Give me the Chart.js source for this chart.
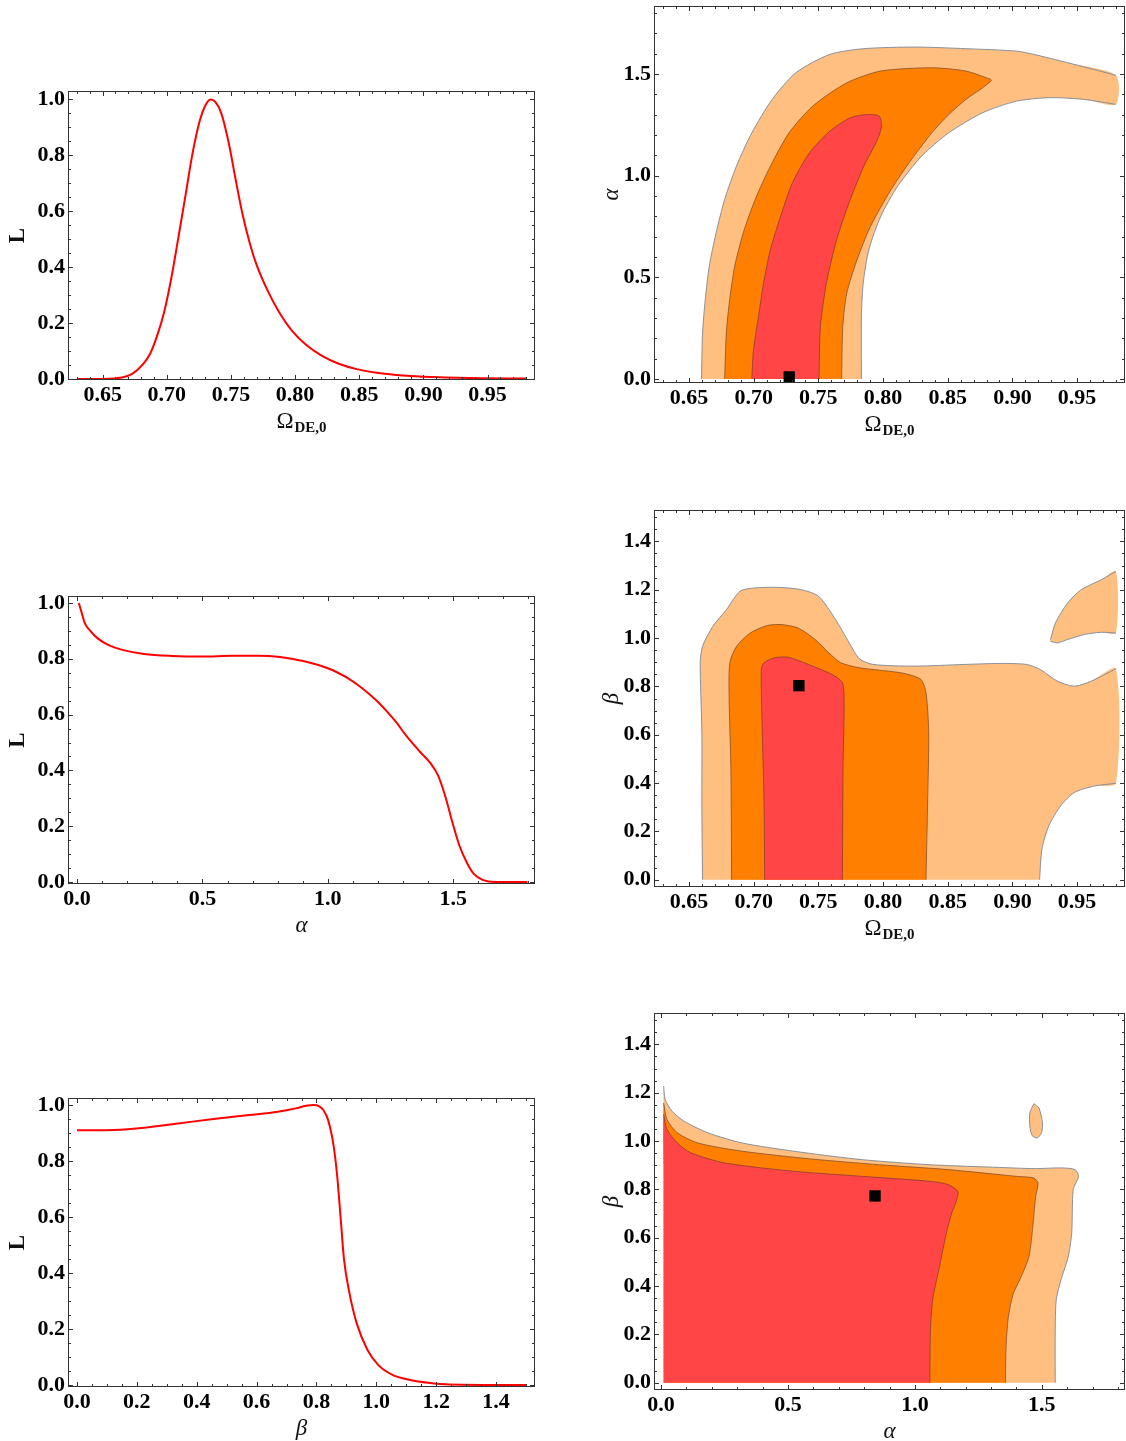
<!DOCTYPE html>
<html lang="en">
<head>
  <meta charset="UTF-8" />
  <title>Likelihoods and confidence contours</title>
  <script src="https://cdn.jsdelivr.net/npm/chart.js"></script>
  <style>
    html, body { margin: 0; padding: 0; background: #fff; overflow: hidden; }
    canvas { position: absolute; }
  </style>
</head>
<body>
  <script>
    // ---- 1D likelihoods ----
    const omegaGrid = [0.63, 0.65, 0.665, 0.673, 0.681, 0.687, 0.6925, 0.698, 0.7035, 0.709, 0.7147, 0.72, 0.7258, 0.73, 0.734, 0.738, 0.7425, 0.748, 0.7536, 0.759, 0.765, 0.77, 0.779, 0.787, 0.798, 0.809, 0.82, 0.834, 0.848, 0.87, 0.89, 0.917, 0.945, 0.98];
    const likeOmega = [0, 0, 0.005, 0.018, 0.05, 0.09, 0.155, 0.24, 0.36, 0.505, 0.66, 0.805, 0.925, 0.978, 1.0, 0.99, 0.95, 0.85, 0.715, 0.59, 0.48, 0.408, 0.312, 0.243, 0.17, 0.12, 0.085, 0.054, 0.035, 0.018, 0.01, 0.005, 0.002, 0.001];

    const alphaGrid = [0.007, 0.017, 0.031, 0.053, 0.081, 0.124, 0.181, 0.267, 0.381, 0.496, 0.624, 0.724, 0.81, 0.91, 1.0, 1.04, 1.081, 1.12, 1.167, 1.2, 1.239, 1.275, 1.31, 1.367, 1.41, 1.439, 1.467, 1.496, 1.524, 1.553, 1.581, 1.617, 1.667, 1.796];
    const likeAlpha = [1.0, 0.97, 0.928, 0.9, 0.874, 0.85, 0.832, 0.817, 0.81, 0.808, 0.811, 0.811, 0.806, 0.79, 0.766, 0.75, 0.73, 0.706, 0.672, 0.645, 0.608, 0.57, 0.527, 0.467, 0.425, 0.383, 0.311, 0.216, 0.132, 0.072, 0.03, 0.008, 0.0, 0.0];

    const betaGrid = [0, 0.098, 0.217, 0.337, 0.456, 0.576, 0.671, 0.731, 0.765, 0.791, 0.808, 0.823, 0.839, 0.857, 0.869, 0.881, 0.892, 0.91, 0.934, 0.97, 1.006, 1.054, 1.113, 1.173, 1.245, 1.5];
    const likeBeta = [0.91, 0.91, 0.918, 0.934, 0.95, 0.964, 0.976, 0.988, 0.997, 1.0, 0.996, 0.982, 0.946, 0.856, 0.749, 0.593, 0.449, 0.329, 0.222, 0.126, 0.072, 0.036, 0.018, 0.008, 0.002, 0];

    // ---- contornos (Omega, alpha) ----
    const oa3s = [[0.6597, 0], [0.66, 0.1], [0.6605, 0.226], [0.6626, 0.39], [0.6657, 0.555], [0.671, 0.719], [0.6776, 0.883], [0.6867, 1.047], [0.6986, 1.211], [0.7143, 1.375], [0.7327, 1.507], [0.759, 1.597], [0.7852, 1.625], [0.8245, 1.633], [0.864, 1.625], [0.9033, 1.613], [0.9164, 1.597], [0.9426, 1.556], [0.98, 1.494], [0.98, 1.351], [0.9558, 1.375], [0.9295, 1.384], [0.9033, 1.367], [0.877, 1.31], [0.8508, 1.211], [0.8298, 1.096], [0.8114, 0.949], [0.7983, 0.801], [0.7891, 0.637], [0.7847, 0.473], [0.7833, 0.309], [0.7833, 0]];
    const oa2s = [[0.6776, 0], [0.6789, 0.226], [0.6815, 0.39], [0.6854, 0.555], [0.692, 0.719], [0.7012, 0.883], [0.713, 1.047], [0.7274, 1.211], [0.7458, 1.343], [0.772, 1.457], [0.7983, 1.515], [0.8377, 1.531], [0.864, 1.515], [0.8797, 1.482], [0.8837, 1.47], [0.877, 1.433], [0.864, 1.375], [0.8508, 1.301], [0.8377, 1.211], [0.822, 1.08], [0.8062, 0.932], [0.7904, 0.752], [0.78, 0.588], [0.772, 0.423], [0.7689, 0.259], [0.768, 0]];
    const oa1s = [[0.6986, 0], [0.6999, 0.144], [0.7038, 0.309], [0.7077, 0.473], [0.713, 0.637], [0.7209, 0.801], [0.73, 0.965], [0.7432, 1.113], [0.7589, 1.219], [0.7747, 1.285], [0.7878, 1.301], [0.797, 1.293], [0.7988, 1.244], [0.7957, 1.178], [0.7852, 1.047], [0.7747, 0.883], [0.7642, 0.686], [0.7563, 0.473], [0.7516, 0.259], [0.7505, 0]];
    const oaBest = [[0.7275, 0.01]];

    // ---- contornos (Omega, beta) ----
    const ob3s = [[0.6605, 0], [0.66, 0.3], [0.66, 0.608], [0.6587, 0.898], [0.6605, 0.966], [0.6685, 1.049], [0.679, 1.118], [0.6895, 1.194], [0.7, 1.207], [0.7185, 1.21], [0.737, 1.2], [0.7502, 1.173], [0.7633, 1.077], [0.7739, 0.98], [0.7818, 0.914], [0.7923, 0.891], [0.824, 0.884], [0.8635, 0.891], [0.8899, 0.895], [0.9109, 0.891], [0.9215, 0.87], [0.9347, 0.822], [0.9479, 0.801], [0.961, 0.822], [0.98, 0.873], [0.98, 0.399], [0.9636, 0.388], [0.9478, 0.361], [0.9373, 0.306], [0.9281, 0.223], [0.9228, 0.127], [0.921, 0]];
    const ob3ilha = [[0.9294, 0.994], [0.9333, 1.063], [0.9426, 1.145], [0.9531, 1.2], [0.9689, 1.242], [0.98, 1.276], [0.98, 1.021], [0.9689, 1.024], [0.9557, 1.015], [0.9426, 0.994], [0.9347, 0.98], [0.9294, 0.987]];
    const ob2s = [[0.683, 0], [0.6824, 0.471], [0.6811, 0.746], [0.6816, 0.898], [0.6869, 0.966], [0.6974, 1.021], [0.7106, 1.052], [0.7212, 1.056], [0.7343, 1.042], [0.7475, 0.994], [0.7581, 0.939], [0.7673, 0.898], [0.7818, 0.877], [0.7976, 0.867], [0.816, 0.854], [0.8292, 0.829], [0.8332, 0.774], [0.8353, 0.608], [0.8345, 0.333], [0.8332, 0]];
    const ob1s = [[0.7085, 0], [0.708, 0.333], [0.7067, 0.608], [0.7059, 0.87], [0.708, 0.898], [0.7159, 0.918], [0.7264, 0.921], [0.7423, 0.891], [0.7607, 0.849], [0.7686, 0.815], [0.7699, 0.719], [0.7691, 0.471], [0.7686, 0]];
    const obBest = [[0.735, 0.803]];

    // ---- contornos (alpha, beta) ----
    const ab3s = [[0.01, 0], [0.01, 0.4], [0.01, 0.8], [0.01, 1.227], [0.016, 1.172], [0.043, 1.124], [0.091, 1.082], [0.185, 1.034], [0.32, 0.992], [0.523, 0.958], [0.793, 0.923], [1.064, 0.902], [1.334, 0.891], [1.469, 0.886], [1.577, 0.889], [1.631, 0.882], [1.645, 0.854], [1.624, 0.799], [1.618, 0.619], [1.604, 0.52], [1.577, 0.43], [1.557, 0.343], [1.553, 0.205], [1.553, 0]];
    const ab3ilha = [[1.469, 1.155], [1.489, 1.137], [1.503, 1.075], [1.499, 1.034], [1.482, 1.013], [1.462, 1.023], [1.453, 1.061], [1.453, 1.117], [1.469, 1.155]];
    const ab2s = [[0.01, 0], [0.01, 0.5], [0.01, 0.9], [0.01, 1.158], [0.023, 1.089], [0.064, 1.034], [0.145, 0.992], [0.32, 0.958], [0.591, 0.926], [0.861, 0.902], [1.131, 0.882], [1.401, 0.854], [1.469, 0.847], [1.485, 0.826], [1.476, 0.771], [1.462, 0.619], [1.449, 0.52], [1.415, 0.43], [1.388, 0.37], [1.368, 0.27], [1.359, 0.14], [1.357, 0]];
    const ab1s = [[0.01, 0], [0.01, 0.5], [0.01, 0.9], [0.01, 1.11], [0.023, 1.048], [0.064, 0.992], [0.118, 0.951], [0.253, 0.909], [0.523, 0.875], [0.793, 0.854], [1.064, 0.833], [1.131, 0.82], [1.169, 0.792], [1.165, 0.757], [1.145, 0.702], [1.124, 0.619], [1.097, 0.481], [1.07, 0.343], [1.061, 0.205], [1.059, 0]];
    const abBest = [[0.843, 0.773]];

    // ---- ticks ----
    const ticksOmega = [0.65, 0.70, 0.75, 0.80, 0.85, 0.90, 0.95];
    const ticksL = [0, 0.2, 0.4, 0.6, 0.8, 1.0];
    const ticksAlpha = [0, 0.5, 1.0, 1.5];
    const ticksBeta = [0, 0.2, 0.4, 0.6, 0.8, 1.0, 1.2, 1.4];

    const corFraca = '#FEBF80', corMedia = '#FF8000', corForte = '#FF4545';
    const serif = '"Liberation Serif", "DejaVu Serif", serif';

    const tOmega = { text: 'Ω', sub: 'DE,0', font: '23px ' + serif, subFont: 'bold 15px ' + serif };
    const tL = { text: 'L', font: 'bold 23px ' + serif };
    const tAlpha = { text: 'α', font: 'italic 23px ' + serif };
    const tBeta = { text: 'β', font: 'italic 23px ' + serif };

    function desenhaTitulo(ctx, t, cx, cy) {
      ctx.font = t.font;
      const w1 = ctx.measureText(t.text).width;
      let w2 = 0;
      if (t.sub) { ctx.font = t.subFont; w2 = ctx.measureText(t.sub).width + 1; }
      const x0 = cx - (w1 + w2) / 2;
      ctx.font = t.font;
      ctx.fillText(t.text, x0, cy);
      if (t.sub) { ctx.font = t.subFont; ctx.fillText(t.sub, x0 + w1 + 1, cy + 6); }
    }

    // moldura com ticks nos quatro lados + titulos dos eixos
    const moldura = {
      id: 'moldura',
      afterDraw(chart, args, o) {
        const { ctx, chartArea: a, scales } = chart;
        ctx.save();
        ctx.strokeStyle = '#333';
        ctx.lineWidth = 1;
        ctx.strokeRect(a.left + 0.5, a.top + 0.5, a.right - a.left - 1, a.bottom - a.top - 1);
        const marcas = (sc, major, passo, horiz) => {
          const vals = major.map(v => [v, 5]);
          for (let k = Math.ceil(sc.min / passo); k * passo <= sc.max; k++) {
            const v = k * passo;
            if (!major.some(m => Math.abs(m - v) < passo / 10)) vals.push([v, 3]);
          }
          ctx.beginPath();
          vals.forEach(([v, len]) => {
            const p = Math.round(sc.getPixelForValue(v)) + 0.5;
            if (horiz) {
              ctx.moveTo(p, a.bottom); ctx.lineTo(p, a.bottom - len);
              ctx.moveTo(p, a.top); ctx.lineTo(p, a.top + len);
            } else {
              ctx.moveTo(a.left, p); ctx.lineTo(a.left + len, p);
              ctx.moveTo(a.right, p); ctx.lineTo(a.right - len, p);
            }
          });
          ctx.stroke();
        };
        marcas(scales.x, o.xTicks, o.xMinor, true);
        marcas(scales.y, o.yTicks, o.yMinor, false);

        ctx.fillStyle = '#111';
        ctx.textBaseline = 'middle';
        ctx.textAlign = 'left';
        desenhaTitulo(ctx, o.xTitle, (a.left + a.right) / 2, a.bottom + o.xDy);
        ctx.translate(a.left - o.yDx, (a.top + a.bottom) / 2);
        ctx.rotate(-Math.PI / 2);
        desenhaTitulo(ctx, o.yTitle, 0, 0);
        ctx.restore();
      }
    };

    const pts = arr => arr.map(p => ({ x: p[0], y: p[1] }));

    function curva(xs, ys) {
      return [{
        data: xs.map((x, i) => ({ x, y: ys[i] })),
        showLine: true, borderColor: '#FF0000', borderWidth: 2, pointRadius: 0,
        cubicInterpolationMode: 'monotone', fill: false
      }];
    }

    // separa o contorno em trechos, sem tracar as bordas do dominio
    function trechos(poly, edgeX) {
      const runs = [];
      let atual = [poly[0]];
      for (let i = 1; i < poly.length; i++) {
        const a = poly[i - 1], b = poly[i];
        const naBorda = (a[1] === 0 && b[1] === 0) || (a[0] === edgeX && b[0] === edgeX);
        if (naBorda) {
          if (atual.length > 1) runs.push(atual);
          atual = [b];
        } else {
          atual.push(b);
        }
      }
      if (atual.length > 1) runs.push(atual);
      return runs;
    }

    function regiao(poly, cor, borda, ordem, edgeX) {
      const sets = [{
        data: pts(poly), showLine: true, fill: 'shape', backgroundColor: cor,
        borderWidth: 0, pointRadius: 0, tension: 0.25, order: ordem + 0.5
      }];
      trechos(poly, edgeX).forEach(r => sets.push({
        data: pts(r), showLine: true, fill: false, borderColor: borda, borderWidth: 1,
        pointRadius: 0, tension: 0.25, order: ordem
      }));
      return sets;
    }

    function melhor(p) {
      return [{
        data: pts(p), showLine: false, pointStyle: 'rect', pointRadius: 8,
        backgroundColor: '#000', borderColor: '#000', borderWidth: 0, order: 0
      }];
    }

    function contornos(s3, s2, s1, extra, best, edgeX) {
      let sets = [];
      sets = sets.concat(regiao(s3, corFraca, 'rgba(125,135,150,0.9)', 6, edgeX));
      if (extra) sets = sets.concat(regiao(extra, corFraca, 'rgba(125,135,150,0.9)', 6, edgeX));
      sets = sets.concat(regiao(s2, corMedia, 'rgba(140,85,40,0.85)', 4, edgeX));
      sets = sets.concat(regiao(s1, corForte, 'rgba(150,60,50,0.85)', 2, edgeX));
      return sets.concat(melhor(best));
    }

    const paineis = [
      { frame: [68, 91, 535, 380], col: 0,
        x: { min: 0.623, max: 0.987, ticks: ticksOmega, minor: 0.01, dec: 2, title: tOmega },
        y: { min: -0.004, max: 1.03, ticks: ticksL, minor: 0.05, dec: 1, title: tL },
        datasets: curva(omegaGrid, likeOmega) },
      { frame: [68, 596, 535, 884], col: 0,
        x: { min: -0.036, max: 1.826, ticks: ticksAlpha, minor: 0.1, dec: 1, title: tAlpha },
        y: { min: -0.007, max: 1.025, ticks: ticksL, minor: 0.05, dec: 1, title: tL },
        datasets: curva(alphaGrid, likeAlpha) },
      { frame: [68, 1098, 535, 1387], col: 0,
        x: { min: -0.03, max: 1.53, ticks: ticksBeta, minor: 0.05, dec: 1, title: tBeta },
        y: { min: -0.007, max: 1.025, ticks: ticksL, minor: 0.05, dec: 1, title: tL },
        datasets: curva(betaGrid, likeBeta) },
      { frame: [654, 6, 1125, 383], col: 1,
        x: { min: 0.623, max: 0.987, ticks: ticksOmega, minor: 0.01, dec: 2, title: tOmega },
        y: { min: -0.02, max: 1.835, ticks: ticksAlpha, minor: 0.1, dec: 1, title: tAlpha },
        datasets: contornos(oa3s, oa2s, oa1s, null, oaBest, 0.98) },
      { frame: [654, 510, 1125, 887], col: 1,
        x: { min: 0.623, max: 0.987, ticks: ticksOmega, minor: 0.01, dec: 2, title: tOmega },
        y: { min: -0.03, max: 1.53, ticks: ticksBeta, minor: 0.05, dec: 1, title: tBeta },
        datasets: contornos(ob3s, ob2s, ob1s, ob3ilha, obBest, 0.98) },
      { frame: [654, 1013, 1125, 1390], col: 1,
        x: { min: -0.028, max: 1.828, ticks: ticksAlpha, minor: 0.1, dec: 1, title: tAlpha },
        y: { min: -0.03, max: 1.53, ticks: ticksBeta, minor: 0.05, dec: 1, title: tBeta },
        datasets: contornos(ab3s, ab2s, ab1s, ab3ilha, abBest, 0.01) }
    ];

    function eixo(s, horiz, tamanho) {
      return {
        type: 'linear', min: s.min, max: s.max,
        grid: { display: false, drawTicks: false },
        border: { display: false },
        afterBuildTicks: sc => { sc.ticks = s.ticks.map(v => ({ value: v })); },
        afterFit: sc => {
          if (horiz) sc.height = tamanho; else sc.width = tamanho;
          sc.paddingLeft = 0; sc.paddingRight = 0; sc.paddingTop = 0; sc.paddingBottom = 0;
        },
        ticks: {
          color: '#000', autoSkip: false, maxRotation: 0,
          padding: horiz ? 2 : 3,
          font: { family: 'Liberation Serif', size: 22, weight: 'bold' },
          callback: v => v.toFixed(s.dec)
        }
      };
    }

    paineis.forEach(p => {
      const [l, t, r, b] = p.frame;
      const left = p.col === 0 ? 0 : 586;
      const width = p.col === 0 ? 560 : 540;
      const top = Math.max(0, t - 45);
      const height = b + 70 - top;
      const cv = document.createElement('canvas');
      cv.width = width; cv.height = height;
      cv.style.left = left + 'px'; cv.style.top = top + 'px';
      document.body.appendChild(cv);

      new Chart(cv, {
        type: 'scatter',
        data: { datasets: p.datasets },
        options: {
          responsive: false, animation: false, events: [],
          devicePixelRatio: 1,
          layout: { autoPadding: false, padding: { left: 0, top: t - top, right: left + width - r, bottom: 0 } },
          scales: {
            x: eixo(p.x, true, top + height - b),
            y: eixo(p.y, false, l - left)
          },
          plugins: {
            legend: { display: false },
            tooltip: { enabled: false },
            moldura: {
              xTicks: p.x.ticks, xMinor: p.x.minor, yTicks: p.y.ticks, yMinor: p.y.minor,
              xTitle: p.x.title, yTitle: p.y.title,
              xDy: 42, yDx: p.col === 0 ? 50 : 42
            }
          }
        },
        plugins: [moldura]
      });
    });
  </script>
</body>
</html>
